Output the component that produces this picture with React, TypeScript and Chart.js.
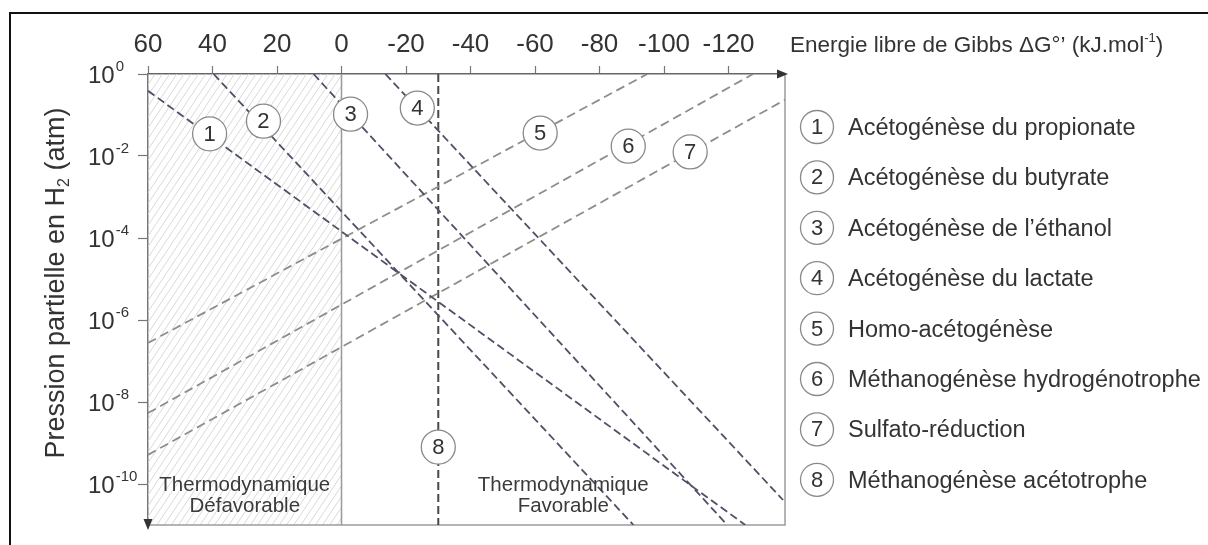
import React, { useEffect, useRef } from 'react';
import { Chart, registerables } from 'chart.js';

Chart.register(...registerables);

// ---- Data ----
const xTickValues = [60, 40, 20, 0, -20, -40, -60, -80, -100, -120];
const yTickExponents = [0, -2, -4, -6, -8, -10];
const xMinG = -137.5;
const xMaxG = 60;
const yMinP = 1e-11;
const yMaxP = 1;

const reactionNames = [
  'Acétogénèse du propionate',
  'Acétogénèse du butyrate',
  "Acétogénèse de l’éthanol",
  'Acétogénèse du lactate',
  'Homo-acétogénèse',
  'Méthanogénèse hydrogénotrophe',
  'Sulfato-réduction',
  'Méthanogénèse acétotrophe',
];

// each reaction line: start / end ΔG°' (kJ/mol) and log10(pH2)
const lineStartG = [60, 39.65, 8.67, -13.6, 60, 60, 60, -30];
const lineEndG = [-125.2, -90.5, -119.6, -136.9, -94.8, -127.6, -137.5, -30];
const lineStartLogP = [-0.41, 0, 0, 0, -6.56, -8.27, -9.29, 0];
const lineEndLogP = [-11, -11, -11, -10.39, 0, 0, -0.63, -11];

// numbered circle labels on the lines
const labelG = [40.9, 24.2, -2.8, -23.5, -61.6, -88.9, -108.1, -30];
const labelLogP = [-1.46, -1.15, -0.98, -0.83, -1.44, -1.76, -1.9, -9.1];

// thermodynamic boundary and regions
const boundaryG = [0, 0];
const boundaryP = [yMaxP, yMinP];
const unfavorableRange = [60, 0];
const favorableRange = [0, -137.5];
const regionTexts = [
  ['Thermodynamique', 'Défavorable'],
  ['Thermodynamique', 'Favorable'],
];

const xTitle = 'Energie libre de Gibbs ΔG°’ (kJ.mol';
const yTitleMain = 'Pression partielle en H';

// ---- Styles ----
const FONT = "'Liberation Sans', Arial, Helvetica, sans-serif";
const TEXT = '#333333';
const lineColors = ['#4f5066', '#4f5066', '#4f5066', '#4f5066', '#8e8e86', '#8e8e86', '#8e8e86', '#484848'];
const lineDashes = [[8, 4], [8, 4], [8, 4], [8, 4], [9, 5], [9, 5], [9, 5], [8, 4]];

const decorPlugin = {
  id: 'decor',
  beforeDraw(chart: any) {
    const { ctx, width, height } = chart;
    ctx.save();
    ctx.fillStyle = '#ffffff';
    ctx.fillRect(0, 0, width, height);
    ctx.strokeStyle = '#111111';
    ctx.lineWidth = 2;
    ctx.beginPath();
    ctx.moveTo(10, height);
    ctx.lineTo(10, 13);
    ctx.lineTo(width, 13);
    ctx.stroke();
    ctx.restore();
  },
  beforeDatasetsDraw(chart: any) {
    const { ctx, chartArea: a } = chart;
    const x = chart.scales.x;
    const x0 = x.getPixelForValue(unfavorableRange[0]);
    const x1 = x.getPixelForValue(unfavorableRange[1]);
    ctx.save();
    ctx.beginPath();
    ctx.rect(x0, a.top, x1 - x0, a.bottom - a.top);
    ctx.clip();
    ctx.strokeStyle = '#d9d9d9';
    ctx.lineWidth = 1;
    const h = a.bottom - a.top;
    const dx = h / 1.5;
    for (let s = x0 - dx; s < x1 + 2; s += 7.2) {
      ctx.beginPath();
      ctx.moveTo(s, a.bottom);
      ctx.lineTo(s + dx, a.top);
      ctx.stroke();
    }
    ctx.restore();

    ctx.save();
    ctx.strokeStyle = '#9c9c9c';
    ctx.lineWidth = 1.5;
    ctx.beginPath();
    ctx.moveTo(a.left, a.bottom);
    ctx.lineTo(a.right, a.bottom);
    ctx.lineTo(a.right, a.top);
    ctx.stroke();
    ctx.restore();
  },
  afterDatasetsDraw(chart: any) {
    const { ctx, chartArea: a } = chart;
    const xs = chart.scales.x;
    const ys = chart.scales.y;

    // numbers inside circles
    const meta = chart.getDatasetMeta(0);
    ctx.save();
    ctx.fillStyle = TEXT;
    ctx.font = `22px ${FONT}`;
    ctx.textAlign = 'center';
    ctx.textBaseline = 'middle';
    meta.data.forEach((el: any, i: number) => {
      ctx.fillText(String(i + 1), el.x, el.y + 1);
    });
    ctx.restore();

    // arrows
    ctx.save();
    ctx.fillStyle = '#333333';
    ctx.beginPath();
    ctx.moveTo(a.right + 3, a.top);
    ctx.lineTo(a.right - 8, a.top - 4.5);
    ctx.lineTo(a.right - 8, a.top + 4.5);
    ctx.closePath();
    ctx.fill();
    ctx.beginPath();
    ctx.moveTo(a.left, a.bottom + 5);
    ctx.lineTo(a.left - 4.5, a.bottom - 6);
    ctx.lineTo(a.left + 4.5, a.bottom - 6);
    ctx.closePath();
    ctx.fill();
    ctx.restore();

    // y tick labels 10^n
    ctx.save();
    ctx.fillStyle = TEXT;
    ctx.textAlign = 'left';
    ctx.textBaseline = 'alphabetic';
    yTickExponents.forEach((e) => {
      const y = ys.getPixelForValue(Math.pow(10, e));
      ctx.font = `24px ${FONT}`;
      ctx.fillText('10', 88, y + 9);
      const w = ctx.measureText('10').width;
      ctx.font = `15px ${FONT}`;
      ctx.fillText(String(e), 88 + w + 1, y - 3);
    });
    ctx.restore();

    // x title
    ctx.save();
    ctx.fillStyle = TEXT;
    ctx.textAlign = 'left';
    ctx.textBaseline = 'alphabetic';
    ctx.font = `22.5px ${FONT}`;
    let tx = 790;
    ctx.fillText(xTitle, tx, 52);
    tx += ctx.measureText(xTitle).width;
    ctx.font = `13px ${FONT}`;
    ctx.fillText('-1', tx, 42);
    tx += ctx.measureText('-1').width;
    ctx.font = `22.5px ${FONT}`;
    ctx.fillText(')', tx, 52);
    ctx.restore();

    // y title (rotated)
    ctx.save();
    ctx.fillStyle = TEXT;
    ctx.font = `27px ${FONT}`;
    const part1 = yTitleMain;
    const part3 = ' (atm)';
    const w1 = ctx.measureText(part1).width;
    const w3 = ctx.measureText(part3).width;
    ctx.font = `16px ${FONT}`;
    const w2 = ctx.measureText('2').width;
    const total = w1 + w2 + w3;
    ctx.translate(64, 283);
    ctx.rotate(-Math.PI / 2);
    ctx.textAlign = 'left';
    ctx.textBaseline = 'alphabetic';
    let px = -total / 2;
    ctx.font = `27px ${FONT}`;
    ctx.fillText(part1, px, 0);
    px += w1;
    ctx.font = `16px ${FONT}`;
    ctx.fillText('2', px, 5);
    px += w2;
    ctx.font = `27px ${FONT}`;
    ctx.fillText(part3, px, 0);
    ctx.restore();

    // region texts
    ctx.save();
    ctx.fillStyle = '#3a3a3a';
    ctx.font = `20.5px ${FONT}`;
    ctx.textAlign = 'center';
    ctx.textBaseline = 'middle';
    [unfavorableRange, favorableRange].forEach((r, i) => {
      const cx = (xs.getPixelForValue(r[0]) + xs.getPixelForValue(r[1])) / 2;
      ctx.fillText(regionTexts[i][0], cx, a.bottom - 40);
      ctx.fillText(regionTexts[i][1], cx, a.bottom - 19);
    });
    ctx.restore();

    // legend
    ctx.save();
    const lx = a.right + 32;
    reactionNames.forEach((name, i) => {
      const cy = 127 + i * 50.4;
      ctx.beginPath();
      ctx.arc(lx, cy, 16.5, 0, Math.PI * 2);
      ctx.fillStyle = '#ffffff';
      ctx.fill();
      ctx.strokeStyle = '#8a8a8a';
      ctx.lineWidth = 1.3;
      ctx.stroke();
      ctx.fillStyle = TEXT;
      ctx.font = `22px ${FONT}`;
      ctx.textAlign = 'center';
      ctx.textBaseline = 'middle';
      ctx.fillText(String(i + 1), lx, cy + 1);
      ctx.font = `23.5px ${FONT}`;
      ctx.textAlign = 'left';
      ctx.textBaseline = 'alphabetic';
      ctx.fillText(name, lx + 31, cy + 8);
    });
    ctx.restore();
  },
};

export default function App() {
  const canvasRef = useRef<HTMLCanvasElement | null>(null);

  useEffect(() => {
    const canvas = canvasRef.current;
    if (!canvas) return;

    const circleDataset = {
      label: 'labels',
      data: labelG.map((g, i) => ({ x: g, y: Math.pow(10, labelLogP[i]) })),
      showLine: false,
      pointRadius: 17,
      pointHoverRadius: 17,
      pointBackgroundColor: '#ffffff',
      pointBorderColor: '#8a8a8a',
      pointBorderWidth: 1.3,
      clip: false,
    };

    const lineDatasets = reactionNames.map((name, i) => ({
      label: name,
      data: [
        { x: lineStartG[i], y: Math.pow(10, lineStartLogP[i]) },
        { x: lineEndG[i], y: Math.pow(10, lineEndLogP[i]) },
      ],
      showLine: true,
      pointRadius: 0,
      borderColor: lineColors[i],
      borderWidth: i === 7 ? 2 : 1.8,
      borderDash: lineDashes[i],
      fill: false,
    }));

    const boundaryDataset = {
      label: 'boundary',
      data: boundaryG.map((g, i) => ({ x: g, y: boundaryP[i] })),
      showLine: true,
      pointRadius: 0,
      borderColor: '#9a9a9a',
      borderWidth: 1.5,
      fill: false,
    };

    const chart = new Chart(canvas, {
      type: 'scatter',
      data: { datasets: [circleDataset, ...lineDatasets, boundaryDataset] as any },
      options: {
        animation: false,
        responsive: false,
        events: [],
        layout: { padding: { left: 0, top: 0, right: 423, bottom: 20 } },
        plugins: { legend: { display: false }, tooltip: { enabled: false } },
        scales: {
          x: {
            type: 'linear',
            position: 'top',
            reverse: true,
            min: xMinG,
            max: xMaxG,
            afterBuildTicks: (scale: any) => {
              scale.ticks = xTickValues.map((v) => ({ value: v }));
            },
            afterFit: (scale: any) => {
              scale.height = 74;
            },
            grid: { drawOnChartArea: false, drawTicks: true, tickLength: 8, tickColor: '#777777', tickWidth: 1.2 },
            border: { display: true, color: '#666666', width: 1.5 },
            ticks: { color: TEXT, font: { size: 26, family: FONT }, padding: 6, maxRotation: 0, autoSkip: false },
          },
          y: {
            type: 'logarithmic',
            position: 'left',
            min: yMinP,
            max: yMaxP,
            afterBuildTicks: (scale: any) => {
              scale.ticks = yTickExponents.map((e) => ({ value: Math.pow(10, e) }));
            },
            afterFit: (scale: any) => {
              scale.width = 148;
            },
            grid: { drawOnChartArea: false, drawTicks: true, tickLength: 10, tickColor: '#777777', tickWidth: 1.2 },
            border: { display: true, color: '#777777', width: 1.5 },
            ticks: { display: false },
          },
        },
      } as any,
      plugins: [decorPlugin],
    });

    return () => {
      chart.destroy();
    };
  }, []);

  return (
    <div style={{ position: 'absolute', left: 0, top: 0, width: 1208, height: 545 }}>
      <canvas ref={canvasRef} width={1208} height={545} style={{ display: 'block' }} />
    </div>
  );
}
